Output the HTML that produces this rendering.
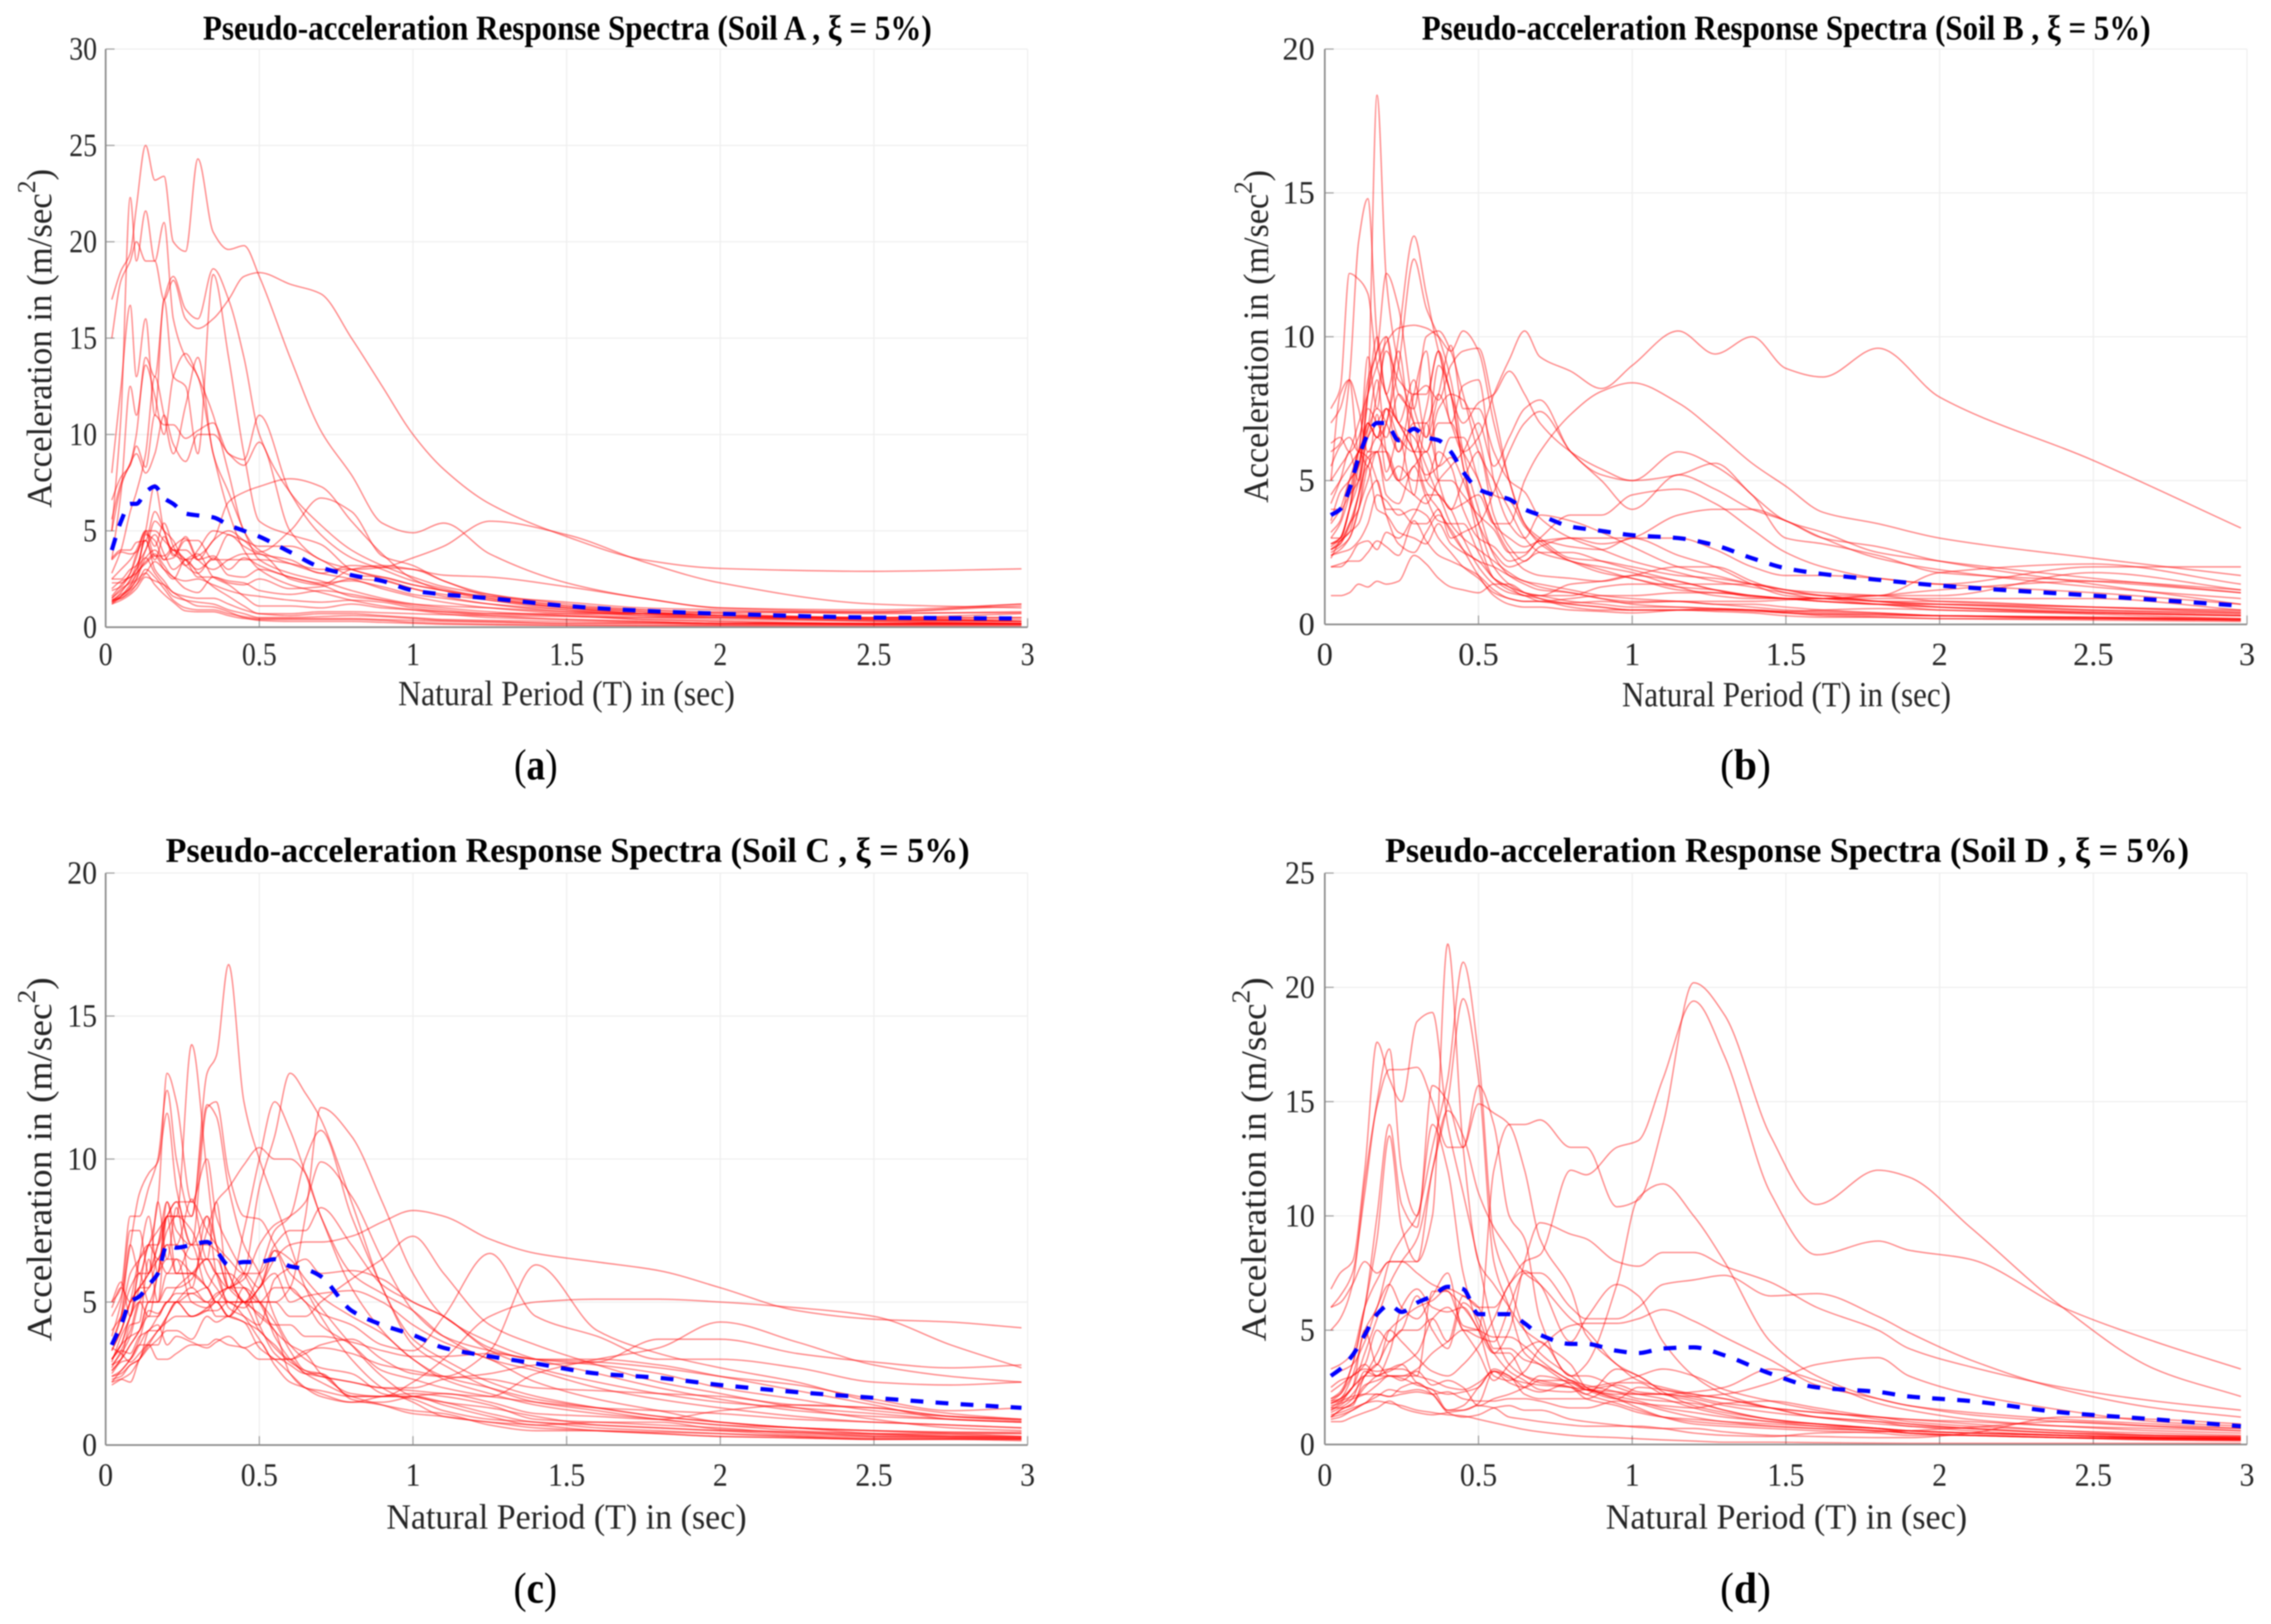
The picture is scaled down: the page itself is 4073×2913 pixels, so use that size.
<!DOCTYPE html>
<html lang="en">
<head>
<meta charset="utf-8">
<title>Pseudo-acceleration Response Spectra</title>
<style>
html,body{margin:0;padding:0;background:#fff;}
svg{display:block;filter:blur(1px);}
text{font-family:"Liberation Serif","DejaVu Serif",serif;fill:#262626;}
.title{font-size:62px;font-weight:bold;fill:#000;}
.xlabel{font-size:64px;}
.ylabel{font-size:64px;}
.sub{font-size:78px;fill:#000;}
</style>
</head>
<body>
<svg id="figure" xmlns="http://www.w3.org/2000/svg" width="4073" height="2913" viewBox="0 0 4073 2913">
<rect x="0" y="0" width="4073" height="2913" fill="#ffffff"/>

<g id="panel-a">
<text class="title" x="364" y="71" textLength="1307" lengthAdjust="spacingAndGlyphs">Pseudo-acceleration Response Spectra (Soil A , ξ = 5%)</text>
<text class="xlabel" x="714" y="1265" textLength="604" lengthAdjust="spacingAndGlyphs">Natural Period (T) in (sec)</text>
<text class="ylabel" transform="translate(92,911) rotate(-90)" textLength="608" lengthAdjust="spacingAndGlyphs">Acceleration in (m/sec<tspan dy="-29" font-size="47">2</tspan><tspan dy="29">)</tspan></text>
<text class="sub" x="922" y="1398" textLength="78" lengthAdjust="spacingAndGlyphs">(<tspan font-weight="bold">a</tspan>)</text>
</g>

<g id="panel-b">
<text class="title" x="2550" y="71" textLength="1307" lengthAdjust="spacingAndGlyphs">Pseudo-acceleration Response Spectra (Soil B , ξ = 5%)</text>
<text class="xlabel" x="2909" y="1267" textLength="590" lengthAdjust="spacingAndGlyphs">Natural Period (T) in (sec)</text>
<text class="ylabel" transform="translate(2274,902) rotate(-90)" textLength="597" lengthAdjust="spacingAndGlyphs">Acceleration in (m/sec<tspan dy="-29" font-size="47">2</tspan><tspan dy="29">)</tspan></text>
<text class="sub" x="3085" y="1398" textLength="91" lengthAdjust="spacingAndGlyphs">(<tspan font-weight="bold">b</tspan>)</text>
</g>

<g id="panel-c">
<text class="title" x="297" y="1546" textLength="1442" lengthAdjust="spacingAndGlyphs">Pseudo-acceleration Response Spectra (Soil C , ξ = 5%)</text>
<text class="xlabel" x="693" y="2742" textLength="646" lengthAdjust="spacingAndGlyphs">Natural Period (T) in (sec)</text>
<text class="ylabel" transform="translate(92,2406) rotate(-90)" textLength="653" lengthAdjust="spacingAndGlyphs">Acceleration in (m/sec<tspan dy="-29" font-size="47">2</tspan><tspan dy="29">)</tspan></text>
<text class="sub" x="921" y="2875" textLength="78" lengthAdjust="spacingAndGlyphs">(<tspan font-weight="bold">c</tspan>)</text>
</g>

<g id="panel-d">
<text class="title" x="2484" y="1546" textLength="1442" lengthAdjust="spacingAndGlyphs">Pseudo-acceleration Response Spectra (Soil D , ξ = 5%)</text>
<text class="xlabel" x="2880" y="2742" textLength="648" lengthAdjust="spacingAndGlyphs">Natural Period (T) in (sec)</text>
<text class="ylabel" transform="translate(2270,2406) rotate(-90)" textLength="653" lengthAdjust="spacingAndGlyphs">Acceleration in (m/sec<tspan dy="-29" font-size="47">2</tspan><tspan dy="29">)</tspan></text>
<text class="sub" x="3085" y="2875" textLength="91" lengthAdjust="spacingAndGlyphs">(<tspan font-weight="bold">d</tspan>)</text>
</g>
</svg>

<script>
// Shared axis ticks
const xTickValues = [0, 0.5, 1, 1.5, 2, 2.5, 3];
const xTickLabels = ["0", "0.5", "1", "1.5", "2", "2.5", "3"];
const soilAYTicks = [0, 5, 10, 15, 20, 25, 30];
const soilBYTicks = [0, 5, 10, 15, 20];
const soilCYTicks = [0, 5, 10, 15, 20];
const soilDYTicks = [0, 5, 10, 15, 20, 25];

// Soil A
const soilAPeriods = [.02,.05,.08,.1,.13,.16,.19,.22,.26,.3,.35,.4,.45,.5,.6,.7,.8,.9,1,1.1,1.25,1.5,1.75,2,2.5,2.98];
const soilASpectra = [
[17,18.5,19.4,21.8,25,23.2,23.4,20,19.5,24.3,20.5,19.6,19.8,18.2,14,10.2,7.9,5.4,4.9,5.4,3.8,2.3,1.5,1,.8,1.1],
[15,18,19,20,19,19,17,18,16,15.5,16,17,18.2,18.4,17.8,17.3,15,12.5,10,8.2,6.4,4.7,3.5,3.05,2.9,3.03],
[5.6,7.5,8.5,10,14,13,17,18.2,16.5,16,18.6,17,14,10,7,5.3,4,3.2,2.6,2.1,1.7,1.2,.9,.7,.5,.5],
[8,12.5,16.7,13,16,11,17,13,12.5,9,18.3,14,9,5.5,4.8,4.3,3,2.6,2.2,1.9,1.4,.9,.6,.5,.4,.3],
[6.6,7.8,8.4,9.4,8.3,11,10.5,10.5,9.8,10.2,10.6,9,8.7,11,7,4.8,3.6,3,2.4,2,1.5,1,.7,.5,.35,.3],
[5,7.3,8.5,9,8,9,11,9.5,8.6,10,10,9,8.4,9.6,5,3.5,3,2.5,2,1.6,1.2,.8,.6,.5,.3,.2],
[3.6,4,4,4.4,4.5,6,5,3.8,3.5,3.7,4.5,6.5,7,7.3,7.7,7.3,5.5,3.8,2.5,1.9,1.5,1,.8,.6,.4,.3],
[2.5,2.5,3,3.2,5,7.4,5,4,4,3.5,4.5,5,4.5,3.9,5,6.7,6,3.7,3.2,2.4,1.7,1.1,.8,.6,.4,.3],
[2,2.4,2.6,3,4.5,3.5,4.7,3.7,4.7,3.5,3,3.5,3.8,3.8,2.5,2.2,3,3.2,3,2.7,2.6,2.1,1.5,1,.9,1.2],
[1.9,2.1,2.8,3.6,5,4.2,5.4,4.2,3.2,4,5,4.8,4.5,4.2,4.2,3.5,2.7,2.6,2.2,1.9,1.6,1.3,1,.9,.7,.8],
[1.5,2,2.3,2.7,4.8,4.5,3.5,3.6,4.5,4.5,3.5,4.8,4.2,3.8,3.5,2.8,3.2,3.1,3,2.4,1.6,1.1,.9,.8,.8,1.2],
[1.3,1.8,2.5,3.2,4,5.5,5,4.5,3.2,2.8,3.6,2.7,2.6,3,2.6,2.3,2.4,2.1,1.7,1.5,1.2,.9,.7,.6,.5,.7],
[1.2,1.6,2.2,2.5,3.6,4,3.5,4,3.5,2.6,2.6,2.3,2.2,2.5,2,2.1,2.5,2.4,2,1.7,1.4,1,.7,.6,.5,.5],
[1.3,1.5,1.8,2.2,2.8,3.4,3,2.6,2,1.8,2.6,2.4,2.3,1.9,1.7,1.9,1.7,1.4,1.1,.9,.7,.6,.4,.3,.2,.2],
[2.3,2.3,2.6,2.8,3.4,3.8,3.2,2.6,2.4,2.5,2.2,1.9,1.7,1.6,1.4,1.3,1.4,1.3,1,.8,.6,.4,.3,.2,.15,.15],
[1.6,2.2,2.8,3.8,4.5,3,2.4,1.8,1.6,1.5,1.5,1.2,.9,.7,.6,.7,.7,.6,.5,.4,.35,.3,.25,.2,.2,.2],
[1.5,1.9,2.4,3,3.6,2.8,2.2,1.6,1.4,1.3,1.2,.9,.7,.5,.5,.55,.6,.55,.45,.35,.3,.2,.2,.15,.15,.15],
[1.4,1.7,2,2.4,2.8,2.2,1.7,1.3,.85,.8,.8,.6,.45,.4,.4,.4,.4,.35,.25,.2,.15,.1,.1,.1,.1,.1],
[1.2,1.4,1.7,2,2.6,2.4,2.2,1.8,1.4,1.1,1.05,.8,.5,.35,.3,.3,.3,.25,.2,.15,.12,.1,.08,.08,.06,.06],
[1.3,1.6,2.1,2.8,3.3,3.7,3,2.5,3.5,2.8,2.1,1.6,1.1,.7,.7,.8,.8,.75,.7,.65,.6,.55,.5,.5,.45,.4],
[1.4,1.6,2,2.5,4,4.8,3.8,3,3.5,3.8,2.6,2.2,1.6,1.1,1.1,1,1.2,1,.9,.8,.7,.7,.7,.75,.75,.75],
[3.5,3.9,3.8,3.9,4.9,3.7,3.7,4.2,4.6,3.5,3.7,3,3.6,3.2,2.6,2.2,1.6,1.4,1.2,1.1,1,.8,.7,.6,.5,.3],
[1.4,1.5,1.9,2.2,3,2.6,2,1.4,1,.9,.9,.7,.55,.45,.45,.45,.45,.4,.35,.3,.25,.2,.2,.2,.2,.2],
[3.5,7,12.5,11,13.6,12,10,13,14.2,13,11,8,5,4,3.3,2.8,2.5,2,1.6,1.3,1,.7,.5,.4,.3,.2],
[5,11,22.3,19,21.6,19,21,16,14,13,9,6,4,3,2.2,1.8,1.4,1.1,.9,.7,.5,.4,.3,.2,.15,.15],
[2.5,3,3.5,4,5,5,4.5,4,3.5,3,3.5,3.5,3.5,3.5,3.3,3,3,3.1,3.6,4.2,5.5,4.8,3.4,2.3,1.2,1],
[2.8,4,6,7,9,13,11,9,11.5,14,9,7,5,3.5,2.8,2.4,1.9,1.5,1.2,1,.8,.6,.4,.3,.2,.2]
];
const soilAMean = [4,5.5,6.4,6.4,7,7.3,6.7,6.4,5.9,5.8,5.7,5.3,5,4.7,3.9,3.1,2.7,2.4,1.9,1.7,1.5,1.1,.85,.7,.5,.45];

// Soil B
const soilBPeriods = [.02,.05,.08,.11,.14,.17,.2,.24,.29,.33,.37,.41,.45,.5,.55,.6,.65,.7,.8,.9,1,1.15,1.27,1.39,1.5,1.62,1.8,2,2.5,2.98];
const soilBSpectra = [
[2.8,3,4,5.5,8,18.4,12,9,7,5,4.5,3.5,3,2.6,2.2,1.8,1.5,1.4,1.2,1,.9,.8,.7,.6,.5,.45,.4,.3,.25,.2],
[6,6.3,8.5,13.3,14.8,10,8,7,6.5,5.5,4.5,4,3,2,1.4,1.1,1,.9,.7,.6,.5,.5,.5,.45,.4,.3,.25,.2,.2,.15],
[7.5,8.2,12.2,12,11.5,9,8,7,6,4.6,4,3.2,2.6,2.2,2,1.7,1.5,1.3,1.1,.9,.8,.8,.7,.7,.6,.5,.4,.3,.2,.15],
[2.6,2.8,3.4,4.5,7,6.5,7,10,13.5,11.5,9.5,8,5.5,3.5,2,1.4,1.1,1,.8,.7,.6,.6,.55,.5,.4,.35,.3,.3,.2,.15],
[2.4,2.6,3,4,6,6,7,9,12.7,11,10,8.5,6,4,2.4,1.7,1.4,1.2,1.1,.9,.7,.6,.55,.5,.4,.35,.35,.3,.25,.2],
[3,3,4,6,8.5,9.5,12.2,11,7.5,6.5,9,8,5.5,3,1.6,1.2,1,.8,.7,.6,.5,.5,.45,.4,.3,.25,.25,.2,.15,.1],
[5,5.5,6,7,8,9,9.8,10.3,10.4,10.3,10,9.5,10.2,9.5,7,5,3.5,2.8,2.2,1.8,1.6,1.2,1.1,1,.9,.8,.7,.6,.45,.3],
[4.5,5,5.5,6,6.5,8,9.5,8.5,8,8.3,7.8,9,9.5,9.6,7.5,5,3.5,3,2.3,2.2,2,1.7,1.6,1.4,1.2,1.1,1,.8,.6,.4],
[2.8,3,4,5,8,9.5,10,8,7.5,10,10.2,9.5,8,6,5,4,3,2.5,2.2,1.9,1.6,1.3,1.2,1,.9,.8,.7,.5,.4,.3],
[3.2,3.6,5,6,6.8,7.5,7,6,7,7,8,7,6,6.5,8,9.2,10.2,9.3,8.8,8.2,9,10.2,9.4,10,8.9,8.6,9.6,7.9,5.7,3.35],
[2,2,2.3,2.8,2.9,2.6,3.2,3,3.8,4.5,4.5,4,4.2,4.5,3.5,3.5,5,6,7.3,8.1,8.4,7.7,6.7,5.6,4.8,3.9,3.5,3,2.3,1.7],
[3.5,4,5,5.5,7,6.5,7.5,6,8,8,9.5,8,7,7.7,8,8.8,8,7,6,5.4,5,5.2,5.6,4.5,3.6,3.2,2.5,2.2,1.6,1.1],
[2.6,2.9,3.5,4.5,5.8,6,6,5,4.5,4.2,5,5.5,6,7,5.5,6.5,7.5,7.8,6,5.2,5,6,5.5,4.5,3,2.8,2.4,1.8,1.5,1.1],
[2.8,2.9,3.2,3.5,4.5,5,4,4,3.5,3.5,4,3,3.2,3.5,4.6,6,7,7.4,6,5,4,5.2,4.7,4,3.6,3,2.3,1.9,1.3,.9],
[7,7.5,8.5,7.5,6,6.5,6,5,5.5,6,5,5,4.5,3.8,3.3,2.5,2.5,3,3.8,3.8,4.5,4.7,4.2,3.3,2.5,2,1.6,1.4,1.1,.7],
[5.5,6.2,6.5,6,7,6.5,7.5,6.5,6,6,7,7,6,5,3.5,3,2.7,2.9,3,2.8,3,3.8,4,4,3.6,3,2.7,2.2,1.4,.7],
[2.5,2.7,3,4,5,6,5,5.5,5,5,6,5.5,4,3,2.7,2.2,2.4,2.9,2.7,2.6,3,3,2.6,2,1.7,1.7,1.6,1.4,2,2],
[4,4,4.5,5,6.5,7,7.5,7,6,5.2,5.5,6.5,6.5,5,3.5,2.5,1.9,1.7,1.6,1.5,1.7,2,2,1.5,1.1,.9,1,1.2,1.5,1.2],
[2.6,2.8,3.5,4,5.5,6,4.5,4.2,5.5,4.4,3.6,3.5,3.5,2.5,1.6,1.3,1.1,1,1,1.3,1.4,1.4,1.4,1.4,1.2,1,1,1.8,2.1,1.4],
[2.4,2.5,2.6,2.9,3.5,4.5,4.3,3.8,4,3.8,3,2.5,2,1.6,1.1,.9,.8,.8,.9,1,1,1.1,1.1,1,.9,.9,1,1,1.8,1.2],
[2,2.1,2.2,2.2,2.5,2.9,2.7,2.4,3.6,2.9,2.4,2.2,2,1.7,1.2,.9,.8,.8,.75,.8,.75,.8,.8,.8,.85,.9,.9,.9,.9,.5],
[1,1,1.1,1.4,1.3,1.5,1.4,1.5,2.4,2.1,1.6,1.3,1.2,1.1,1.4,1.4,1.1,.9,.6,.5,.5,.5,.5,.5,.45,.5,.55,.5,.35,.2],
[2.7,3,4,6,5.8,5,3.8,2.8,2.5,3.2,3.8,3.3,2.6,1.7,1,.7,.6,.6,.5,.45,.4,.5,.55,.5,.45,.4,.35,.3,.25,.15],
[3.6,4.6,5,5.5,7.5,7,6.5,8,7,6,7.5,8,7.8,6.5,4.5,4.3,3.4,2.9,2.2,2,1.8,1.3,1,.9,.9,.9,.8,.8,.6,.5],
[5,8,8.5,6,9.3,7.5,10,7,8.5,6.5,8,9.7,7.5,7.5,6,5,4.6,3.7,3,2.6,2.2,1.8,1.5,1.3,1.1,1,.8,.7,.5,.4],
[6.3,6.5,6,6.5,8,10,8,9.5,6,7.5,9.5,7,8.3,8.5,5,3.5,3,3.8,3.6,3.2,2.7,2,1.7,1.4,1.2,1,.8,.6,.4,.3],
[4.2,5,6,5,6.8,8.5,6,5,8,9.5,5,4,5,6,3.8,2.7,2.2,2.7,3,3,3,2.4,2,1.4,1,.9,.7,.6,.4,.3],
[3,3.5,4.5,6,5.5,7.3,5.3,6.5,4.5,7,5.5,5.8,5,3.5,2.5,2,2.2,2.5,2.5,2.2,1.9,1.5,1.2,.95,.9,.9,.8,.7,.6,.45],
[2.3,2.9,3.2,4.5,5.5,4,3.8,3.2,3,2.8,3.5,2.8,2.5,2.2,1.6,1.3,1,1,1.4,1.5,1.7,1.5,1.2,1,.9,.8,.7,.7,.5,.35]
];
const soilBMean = [3.8,4,4.7,5.8,6.6,7,7,6.4,6.8,6.5,6.4,6,5.3,4.7,4.5,4.35,4,3.8,3.4,3.25,3.1,3,2.75,2.3,1.95,1.75,1.55,1.35,1,.65];

// Soil C
const soilCPeriods = [.02,.05,.08,.11,.14,.17,.2,.23,.28,.33,.36,.4,.45,.5,.55,.6,.65,.7,.8,.9,1,1.1,1.25,1.4,1.6,1.8,2,2.25,2.5,2.75,2.98];
const soilCSpectra = [
[3,3.5,4.5,5,5,6,8,8,8,13,13.6,16.8,12,10,8.5,7,5.5,4.5,3,2,1.5,1,.8,.6,.5,.4,.3,.25,.2,.2,.15],
[3.3,4,5,5.5,6,7,8,8,14,9.5,7,6,5,5,3.8,3,2.5,2.2,1.7,1.4,1.1,1,.8,.7,.5,.4,.3,.25,.2,.2,.2],
[3.6,4.5,6,6.5,7,8.5,13,12,8.5,10,8,7,6,5,4,3.5,3.2,2.5,1.8,1.7,1.7,1.5,1.1,.8,.7,.6,.5,.35,.3,.3,.3],
[5,5.5,8,8,9,10,12.4,10,8,11.9,11.5,9,7,6,4.5,3.5,3,2.7,2.5,1.8,1.6,1.2,.9,.8,.6,.5,.4,.3,.25,.25,.25],
[4.5,5.2,7,8.8,9.5,9.9,11.6,9,7,11.8,12,9.5,8,7.9,7,6,5.5,4.8,3.5,2.4,1.7,1.5,1.3,1,.7,.6,.5,.45,.4,.4,.4],
[3.5,4,5,5.5,6,6.5,7,6,6,6.5,6,5.5,6,9,10.8,13,12.3,11.4,8.5,5.5,3.7,3,2.2,1.7,1.3,1,.8,.6,.5,.4,.3],
[2.8,3,3.5,4,4.5,4.5,5,5,5,5,4.5,4.5,5,5,5,5.5,8,11.8,10.8,8.5,6,4.5,3.6,3,2.5,2,1.6,1.2,1,.9,.8],
[4,4.5,5.5,6,6,7,8.5,7.5,7,8,7,5.5,7.5,10,12,11,9.5,8,5.5,4,3,2.4,2,1.6,1.3,1,.8,.6,.5,.45,.4],
[3,3.5,3.8,4,5,5,6,6,6,5.5,5,5,5,6,7.5,8,10,11,8,5.5,3.5,2.8,2,1.5,1.2,.9,.7,.5,.4,.35,.3],
[2.6,3,3.5,4,5,5,5.5,5.5,5.8,7.5,8.5,9,9.8,10.4,10,10,9.5,8,6,5.3,4.7,3.8,3,2.6,2,1.6,1.3,1,.8,.7,.6],
[2.5,2.9,3,3.5,4,4,4.5,5,5.5,5,5.3,5.5,5.8,7,7.7,8,8.5,9.9,8.7,6.5,4.7,3.8,3.3,3,2.8,2.5,2,1.6,1.2,1,.9],
[2.1,2.3,2.5,3,3.5,4,4.3,4.5,4.5,4.7,4.7,5,5,5.5,6.5,7,7.1,7.1,7.3,7.8,8.2,8,7.2,6.7,6.4,6.1,5.5,4.7,4.4,4.3,4.1],
[3.3,4,5,6.5,7,7,8,8.5,8.5,7.5,7,6.5,6,6,7,7.5,7.5,8.3,7,5.6,5,4.5,3.3,2.7,2.2,1.8,1.5,1.3,1.1,.9,.8],
[2.7,3.3,4,5,4.5,6,7,7,6.5,6.5,6,6,5.5,5,5,4.5,4.5,5,5.8,6.5,7.3,6,4.2,3.5,2.8,2.2,1.8,1.3,.9,.6,.5],
[3,3.5,4.5,5.5,7,6.5,7.5,8,7.5,6,5.5,5,5,5,5.5,5.5,5,4.6,4.2,3.5,3.3,4.5,6.7,4.5,3.8,3,3,2.7,2.2,2.1,2.2],
[2.8,3.2,3.8,5,5.5,6,6.5,6.5,6,5.5,5,5,4.5,3.7,3,3,3.2,3.5,3.7,3,2.5,2.4,3.3,6.3,4,3.2,2.7,2.2,1.5,1.1,.9],
[2.4,2.6,3,3.5,3.5,3.5,4.5,5,4.5,4.7,5,4.5,5,4.5,4,2.5,2,1.9,1.7,1.7,2.2,3,4.5,5,5.1,5.1,5,4.8,4.5,3.5,2.7],
[2.2,2.3,2.2,3,3.5,3,3,3.2,3.5,3.5,3.7,3.5,3.4,3,3,3,2.5,2.4,2.2,2,1.9,1.8,1.7,2.5,3,3.4,4.3,3.6,2.8,2.4,2.2],
[2.4,2.5,2.8,3,3.4,3.7,4,4,3.7,4.5,4.3,4.5,4.3,4,3.4,2.9,2.6,2.4,2.2,2,2,2.3,2.5,2.8,2.9,3.7,3.7,3.2,2.9,2.7,2.8],
[2.2,2.6,3,3.7,4.7,4.6,5,5,5.3,5,5,4.5,4.3,3.4,3,2.5,2,1.7,1.5,1.7,1.8,1.7,1.4,.9,.8,.7,.6,.4,.35,.3,.25],
[3.4,3.2,2.9,3.2,3.6,4,4.5,5,4.5,4.8,5.2,5.5,5.5,5,4.3,3.3,2.6,2.5,1.7,1.7,1.7,1.4,1,.7,.8,.8,.55,.45,.3,.25,.2],
[4.8,5.5,5,5.5,5.5,6.5,6,6.5,5,4.8,5,4.5,5.5,4.2,3.2,2.8,2.5,2.5,1.6,1.4,1.2,1.1,.7,.5,.5,.45,.4,.3,.2,.2,.2],
[3,3.3,3.2,3.8,4,4.5,5,5.3,5.3,5.5,5,5.5,5,4,3.5,3,3.3,3.4,3.2,2.8,2.6,2.4,2.3,2,1.9,1.8,1.7,1.4,1.3,1,.9],
[2.9,3.8,4.5,6,5,5,5,5.5,6,6.5,6.5,5.5,5,4.6,4.2,4.2,3.8,3.8,3.6,3.3,3.1,3.1,3.2,3,2.9,2.7,2.4,2.1,1.6,1.2,1.3],
[3.5,4.5,7,6,7,7.5,8,8.5,7,7,6.8,6,5,5.5,6.8,6.5,5.8,5.2,4.5,3.9,3,2.3,1.8,1.4,1.1,.9,.7,.6,.5,.45,.45],
[5,5.7,4.5,6.5,8,6,8.5,7,8.6,6.5,8.5,5.5,6,5.5,6.8,5.5,5,4.2,3.5,2.6,2.3,2,1.7,1.5,1.3,1.2,1.1,.9,.8,.7,.6],
[2.6,3,4.2,4.3,6.5,5,8,6,7,5.5,6,4.8,4.5,4.2,5.8,6.2,6.5,6,6.1,5.8,5,4.5,3.4,3,3,2.8,2.4,1.9,1.4,.9,.8],
[3.8,5,7.5,7.5,6,8.5,6.5,8.3,5.5,8,6,5,4.8,5.5,6,5,5.2,5.3,5.4,5,4.2,3.6,3,2.2,1.6,1.2,.8,.6,.4,.3,.25],
[2.3,2.4,2.8,3,4,4.2,3.5,3.8,3.6,3.4,3.6,3.8,3.4,3.6,2.8,2.2,2,1.8,1.5,1.5,1.7,1.8,1.5,1.1,1,.9,1.2,1.4,1.3,1,.85]
];
const soilCMean = [3.5,4.2,5,5.2,5.6,6,7,6.9,7,7.1,6.8,6.3,6.4,6.4,6.5,6.25,6.15,5.9,4.7,4.2,3.85,3.4,3.1,2.85,2.5,2.35,2.1,1.85,1.65,1.45,1.3];

// Soil D
const soilDPeriods = [.02,.05,.09,.13,.17,.21,.25,.3,.35,.4,.45,.5,.55,.6,.65,.7,.8,.85,.95,1.02,1.1,1.2,1.3,1.45,1.6,1.8,1.9,2.1,2.4,2.7,2.98];
const soilDSpectra = [
[6,6.2,7,8,7.5,8,8,8,10,21.9,13,8,7,6,5,4.5,3.5,2.5,2,1.6,1.2,.9,.8,.7,.6,.5,.4,.4,.3,.25,.2],
[1.8,2,3,5,6,8,9,10,13,16,21.1,17,9,7,5,4,3,2.5,2,1.8,1.5,1.2,1,.9,.8,.7,.6,.5,.4,.3,.25],
[1.6,1.9,2.5,4,5.5,7,8,9,12,15,19.5,16,8,6,4,3.5,2.6,2.2,1.8,1.5,1.2,1,.9,.8,.7,.6,.5,.4,.3,.25,.2],
[6.8,7.5,8,12,17.6,16,15,18.5,18.9,14,11,8,5,3.5,3,2.8,2.5,2,1.7,1.4,1.2,1.1,1,.8,.7,.6,.5,.4,.3,.2,.15],
[6,6.5,7.5,11,15,17.3,12,10,14,12,7.5,5.2,4,3.2,2.8,2.4,2.3,2.4,2.1,1.9,1.6,1.4,1.2,1,.8,.6,.5,.4,.3,.25,.2],
[5,5.5,7,11.5,14.8,16.4,16.4,16.5,15,13,13,15.7,14,10,9,5.5,3,3,2.5,2.2,2,1.6,1.3,1,.9,.7,.6,.5,.4,.3,.3],
[1.9,2.2,3.5,6,10,14,10.5,9.5,15.7,15,13,14.9,14.5,14,12,9,6.8,4.8,3.5,2.8,2.5,2.2,2,1.6,1.2,1,.8,.7,.5,.4,.3],
[2,2.3,3.5,6,9,13.5,9.5,8,12,14.6,13.5,11,9.5,8.5,7.5,7,5.5,5,3.5,3,2.4,2.2,2,1.6,1.4,1.2,1,.8,.6,.4,.35],
[3,3.2,3.5,4.5,6,7,6,5.5,6.5,7.5,5,5,12,14,14,14.2,13,13,10.4,10.7,14,20.2,18.8,13.5,10.5,12,11.7,9.5,6,3.3,2.1],
[2.5,2.8,3,3.5,5,4.5,5,5,5.5,4.5,6.5,6,6,7,8,8.3,12,11.8,13,13.3,16,19.4,17,11,8.3,8.9,8.5,8.1,6,4.5,3.3],
[1.2,1.5,1.8,2.5,3,3.2,3.5,4,5.5,6,5,4,2.8,3.5,4.2,4.5,3,3.5,7,10.8,11.4,10,8,4.5,3,2,1.7,1.3,1,.8,.7],
[1.8,2,2.5,3,3,4,6,6.8,6,5.8,6,5,4,5,8,9.7,9.2,9,8,7.8,8.4,8.4,7.8,7.1,6,5,4.2,3.4,2.5,1.9,1.5],
[1.5,1.8,2.5,3,3.5,3,3,3.3,4,4.5,5,4.7,4.5,6,7.5,7.5,6,5.5,5.5,6,7,7.2,7.4,6.5,6.6,5.6,4.9,3.7,2.4,1.6,1.2],
[1.2,1.5,1.8,2.6,2.8,3,2.8,3.2,2.6,2.8,2.5,1.7,2,2.2,2.5,3,2.7,2.4,2.6,2.3,2.2,2.1,2.2,2.7,3.5,3.8,3,2.2,1.5,1,.8],
[3.3,3.5,4,6,7.2,8,8,7.5,7,6.7,6,5,3,2.8,3.2,4.2,5.2,5.3,5.3,5.5,5.9,5.4,4.7,3.7,2.6,2,1.7,1.4,1.1,.9,.7],
[1.4,1.6,2,3.2,3,3.3,3.5,2.7,2.4,2.2,2.3,2.5,3.3,3,2.5,2.3,2.7,2.4,2.2,2.2,2.2,2.3,2.5,3.3,2.8,1.8,1.5,1.1,.8,.6,.5],
[1.7,1.8,2,2.2,2.6,3,2.9,2.6,2.4,1.5,1.5,1.8,3.2,2.7,2.5,2.8,2.8,2.4,2,2.5,2.4,2.1,1.8,1.6,1.4,1.2,1.1,.9,.6,.5,.4],
[1.3,1.4,1.6,1.8,2.2,2.1,2.5,2.7,2.2,1.5,1.7,2.5,3.2,3,2.2,2,2,2,2.7,3,3.3,3,2.4,1.9,1.5,1.1,.9,.7,.5,.4,.35],
[1.8,1.9,2.1,2.2,2.2,2.1,2.2,2.3,2.2,2.3,2,1.9,1.9,2,2,1.9,1.6,1.6,1.9,1.8,1.7,1.6,1.8,1.9,1.6,1.2,1.1,1,.8,.7,.6],
[1,1,1.2,1.4,1.6,1.9,1.6,1.4,1.3,1.4,1.5,1.7,1.6,1.2,1.1,1,.85,.8,.8,.8,.7,.5,.4,.35,.5,.55,.6,.75,1,.8,.6],
[1.1,1.2,1.5,1.8,1.9,1.8,1.7,1.5,1.4,1.3,1.25,1.1,.95,.8,.65,.55,.4,.35,.3,.25,.2,.15,.1,.1,.08,.06,.05,.05,.05,.05,.05],
[1.2,1.3,1.5,1.8,2.1,2.4,2.3,2.4,2.2,1.4,1.2,1.3,1.6,1.7,1.5,1.5,1.1,1,.85,.75,.7,.7,.55,.4,.35,.3,.3,.5,1.2,1.1,.9],
[2,2.2,3,3.5,3,3,3,3,6.7,6.7,5.2,5,4.7,4.7,4.3,3.7,2.8,2.6,2.3,2,1.9,1.8,1.5,1.1,.9,.7,.6,.5,.4,.3,.25],
[1.6,1.6,1.7,3,3.5,4.5,5,6.5,5,4.2,6.2,5.5,4,4,3,2.7,2.5,2.2,3.3,3,2.3,1.7,1.4,1.1,.9,.7,.5,.4,.3,.2,.2],
[1.9,2,2.5,5,3.5,5,5.5,6,6.3,6.8,6.5,6,4.2,4.2,3.7,3.5,2.8,2.5,2.7,2.7,2.2,1.9,1.5,1.1,.9,.7,.6,.5,.4,.3,.25],
[1.5,1.7,2.2,3,4,5,4.5,3.8,3.2,3,3.5,4.3,5.5,7,7.6,7,4.5,5.5,7,6.5,4.5,3,2.2,1.6,1.2,.9,.8,.6,.4,.3,.25],
[2.3,2.6,3,3.3,3.2,3.3,3.3,3,2.8,2.5,2.4,2.7,3.2,2.9,2.7,2.6,2.5,2.4,2.3,2.2,2.2,2,1.7,1.4,1.2,1,.9,.7,.5,.35,.3]
];
const soilDMean = [3,3.3,3.9,4.8,5.7,6.1,5.8,6.2,6.5,6.9,6.8,5.7,5.7,5.7,5.3,4.8,4.4,4.4,4.1,4,4.2,4.25,3.9,3.1,2.5,2.3,2.1,1.9,1.4,1.1,.8];

const NS = "http://www.w3.org/2000/svg";

// Monotone cubic path through (x,y) pixel points, computed from scaled data
function curvePath(px, py) {
  const n = Math.min(px.length, py.length);
  const d = [], m = [];
  for (let i = 0; i < n - 1; i++) d.push((py[i + 1] - py[i]) / (px[i + 1] - px[i]));
  m.push(d[0]);
  for (let i = 1; i < n - 1; i++) m.push(d[i - 1] * d[i] <= 0 ? 0 : 2 * d[i - 1] * d[i] / (d[i - 1] + d[i]));
  m.push(d[n - 2]);
  let s = "M" + px[0].toFixed(1) + " " + py[0].toFixed(1);
  for (let i = 0; i < n - 1; i++) {
    const h = (px[i + 1] - px[i]) / 3;
    s += "C" + (px[i] + h).toFixed(1) + " " + (py[i] + m[i] * h).toFixed(1) + " " +
      (px[i + 1] - h).toFixed(1) + " " + (py[i + 1] - m[i + 1] * h).toFixed(1) + " " +
      px[i + 1].toFixed(1) + " " + py[i + 1].toFixed(1);
  }
  return s;
}

function drawPanel(opts) {
  const parent = document.getElementById(opts.id);
  const xMax = xTickValues[xTickValues.length - 1];
  const yMax = opts.yTicks[opts.yTicks.length - 1];
  const xScale = v => opts.left + (v / xMax) * (opts.right - opts.left);
  const yScale = v => opts.bottom - (v / yMax) * (opts.bottom - opts.top);

  // Gridlines and x ticks
  xTickValues.forEach((v, i) => {
    const x = xScale(v);
    const grid = document.createElementNS(NS, "line");
    
    
    grid.setAttribute("x1", x); grid.setAttribute("x2", x);
    grid.setAttribute("y1", opts.top); grid.setAttribute("y2", opts.bottom);
    grid.setAttribute("stroke", "#eeeeee"); grid.setAttribute("stroke-width", "2");
    parent.appendChild(grid);

    const tick = document.createElementNS(NS, "line");
    
    
    tick.setAttribute("x1", x); tick.setAttribute("x2", x);
    tick.setAttribute("y1", opts.bottom); tick.setAttribute("y2", opts.bottom - 16);
    tick.setAttribute("stroke", "#9a9a9a"); tick.setAttribute("stroke-width", "2");
    parent.appendChild(tick);

    const label = document.createElementNS(NS, "text");
    
    
    label.setAttribute("transform", "translate(" + x + "," + opts.xTickBase + ") scale(" + opts.tickScale + ",1)");
    label.setAttribute("text-anchor", "middle");
    label.setAttribute("font-size", "58");
    label.textContent = xTickLabels[i];
    parent.appendChild(label);
  });

  // Gridlines and y ticks
  opts.yTicks.forEach(v => {
    const y = yScale(v);
    const grid = document.createElementNS(NS, "line");
    
    
    grid.setAttribute("x1", opts.left); grid.setAttribute("x2", opts.right);
    grid.setAttribute("y1", y); grid.setAttribute("y2", y);
    grid.setAttribute("stroke", "#eeeeee"); grid.setAttribute("stroke-width", "2");
    parent.appendChild(grid);

    const tick = document.createElementNS(NS, "line");
    
    
    tick.setAttribute("x1", opts.left); tick.setAttribute("x2", opts.left + 16);
    tick.setAttribute("y1", y); tick.setAttribute("y2", y);
    tick.setAttribute("stroke", "#9a9a9a"); tick.setAttribute("stroke-width", "2");
    parent.appendChild(tick);

    const label = document.createElementNS(NS, "text");
    
    
    label.setAttribute("transform", "translate(" + opts.yTickRight + "," + (y + 19) + ") scale(" + opts.tickScale + ",1)");
    label.setAttribute("text-anchor", "end");
    label.setAttribute("font-size", "58");
    label.textContent = String(v);
    parent.appendChild(label);
  });

  // Record spectra
  const xs = opts.periods.map(xScale);
  opts.spectra.forEach(values => {
    const line = document.createElementNS(NS, "path");
    
    
    line.setAttribute("d", curvePath(xs, values.map(yScale)));
    line.setAttribute("fill", "none");
    line.setAttribute("stroke", "#ff0000");
    line.setAttribute("stroke-opacity", "0.5");
    line.setAttribute("stroke-width", "2.3");
    parent.appendChild(line);
  });

  // Mean spectrum
  const meanLine = document.createElementNS(NS, "path");
  
  
  meanLine.setAttribute("d", curvePath(xs, opts.mean.map(yScale)));
  meanLine.setAttribute("fill", "none");
  meanLine.setAttribute("stroke", "#0000ff");
  meanLine.setAttribute("stroke-width", "7.5");
  meanLine.setAttribute("stroke-dasharray", "23 22");
  parent.appendChild(meanLine);

  // Axis lines
  const yAxis = document.createElementNS(NS, "line");
  
  
  yAxis.setAttribute("x1", opts.left); yAxis.setAttribute("x2", opts.left);
  yAxis.setAttribute("y1", opts.top); yAxis.setAttribute("y2", opts.bottom);
  yAxis.setAttribute("stroke", "#8a8a8a"); yAxis.setAttribute("stroke-width", "3");
  parent.appendChild(yAxis);

  const xAxis = document.createElementNS(NS, "line");
  
  
  xAxis.setAttribute("x1", opts.left); xAxis.setAttribute("x2", opts.right);
  xAxis.setAttribute("y1", opts.bottom); xAxis.setAttribute("y2", opts.bottom);
  xAxis.setAttribute("stroke", "#8a8a8a"); xAxis.setAttribute("stroke-width", "3");
  parent.appendChild(xAxis);
}

drawPanel({id: "panel-a", left: 189.5, right: 1843, top: 88, bottom: 1125, xTickBase: 1193, yTickRight: 174, tickScale: 0.86, yTicks: soilAYTicks, periods: soilAPeriods, spectra: soilASpectra, mean: soilAMean});
drawPanel({id: "panel-b", left: 2376, right: 4030, top: 88, bottom: 1120, xTickBase: 1193, yTickRight: 2358, tickScale: 1, yTicks: soilBYTicks, periods: soilBPeriods, spectra: soilBSpectra, mean: soilBMean});
drawPanel({id: "panel-c", left: 189.5, right: 1843, top: 1566, bottom: 2592, xTickBase: 2665, yTickRight: 174, tickScale: 0.92, yTicks: soilCYTicks, periods: soilCPeriods, spectra: soilCSpectra, mean: soilCMean});
drawPanel({id: "panel-d", left: 2376, right: 4030, top: 1566, bottom: 2591, xTickBase: 2665, yTickRight: 2358, tickScale: 0.92, yTicks: soilDYTicks, periods: soilDPeriods, spectra: soilDSpectra, mean: soilDMean});
</script>
</body>
</html>
